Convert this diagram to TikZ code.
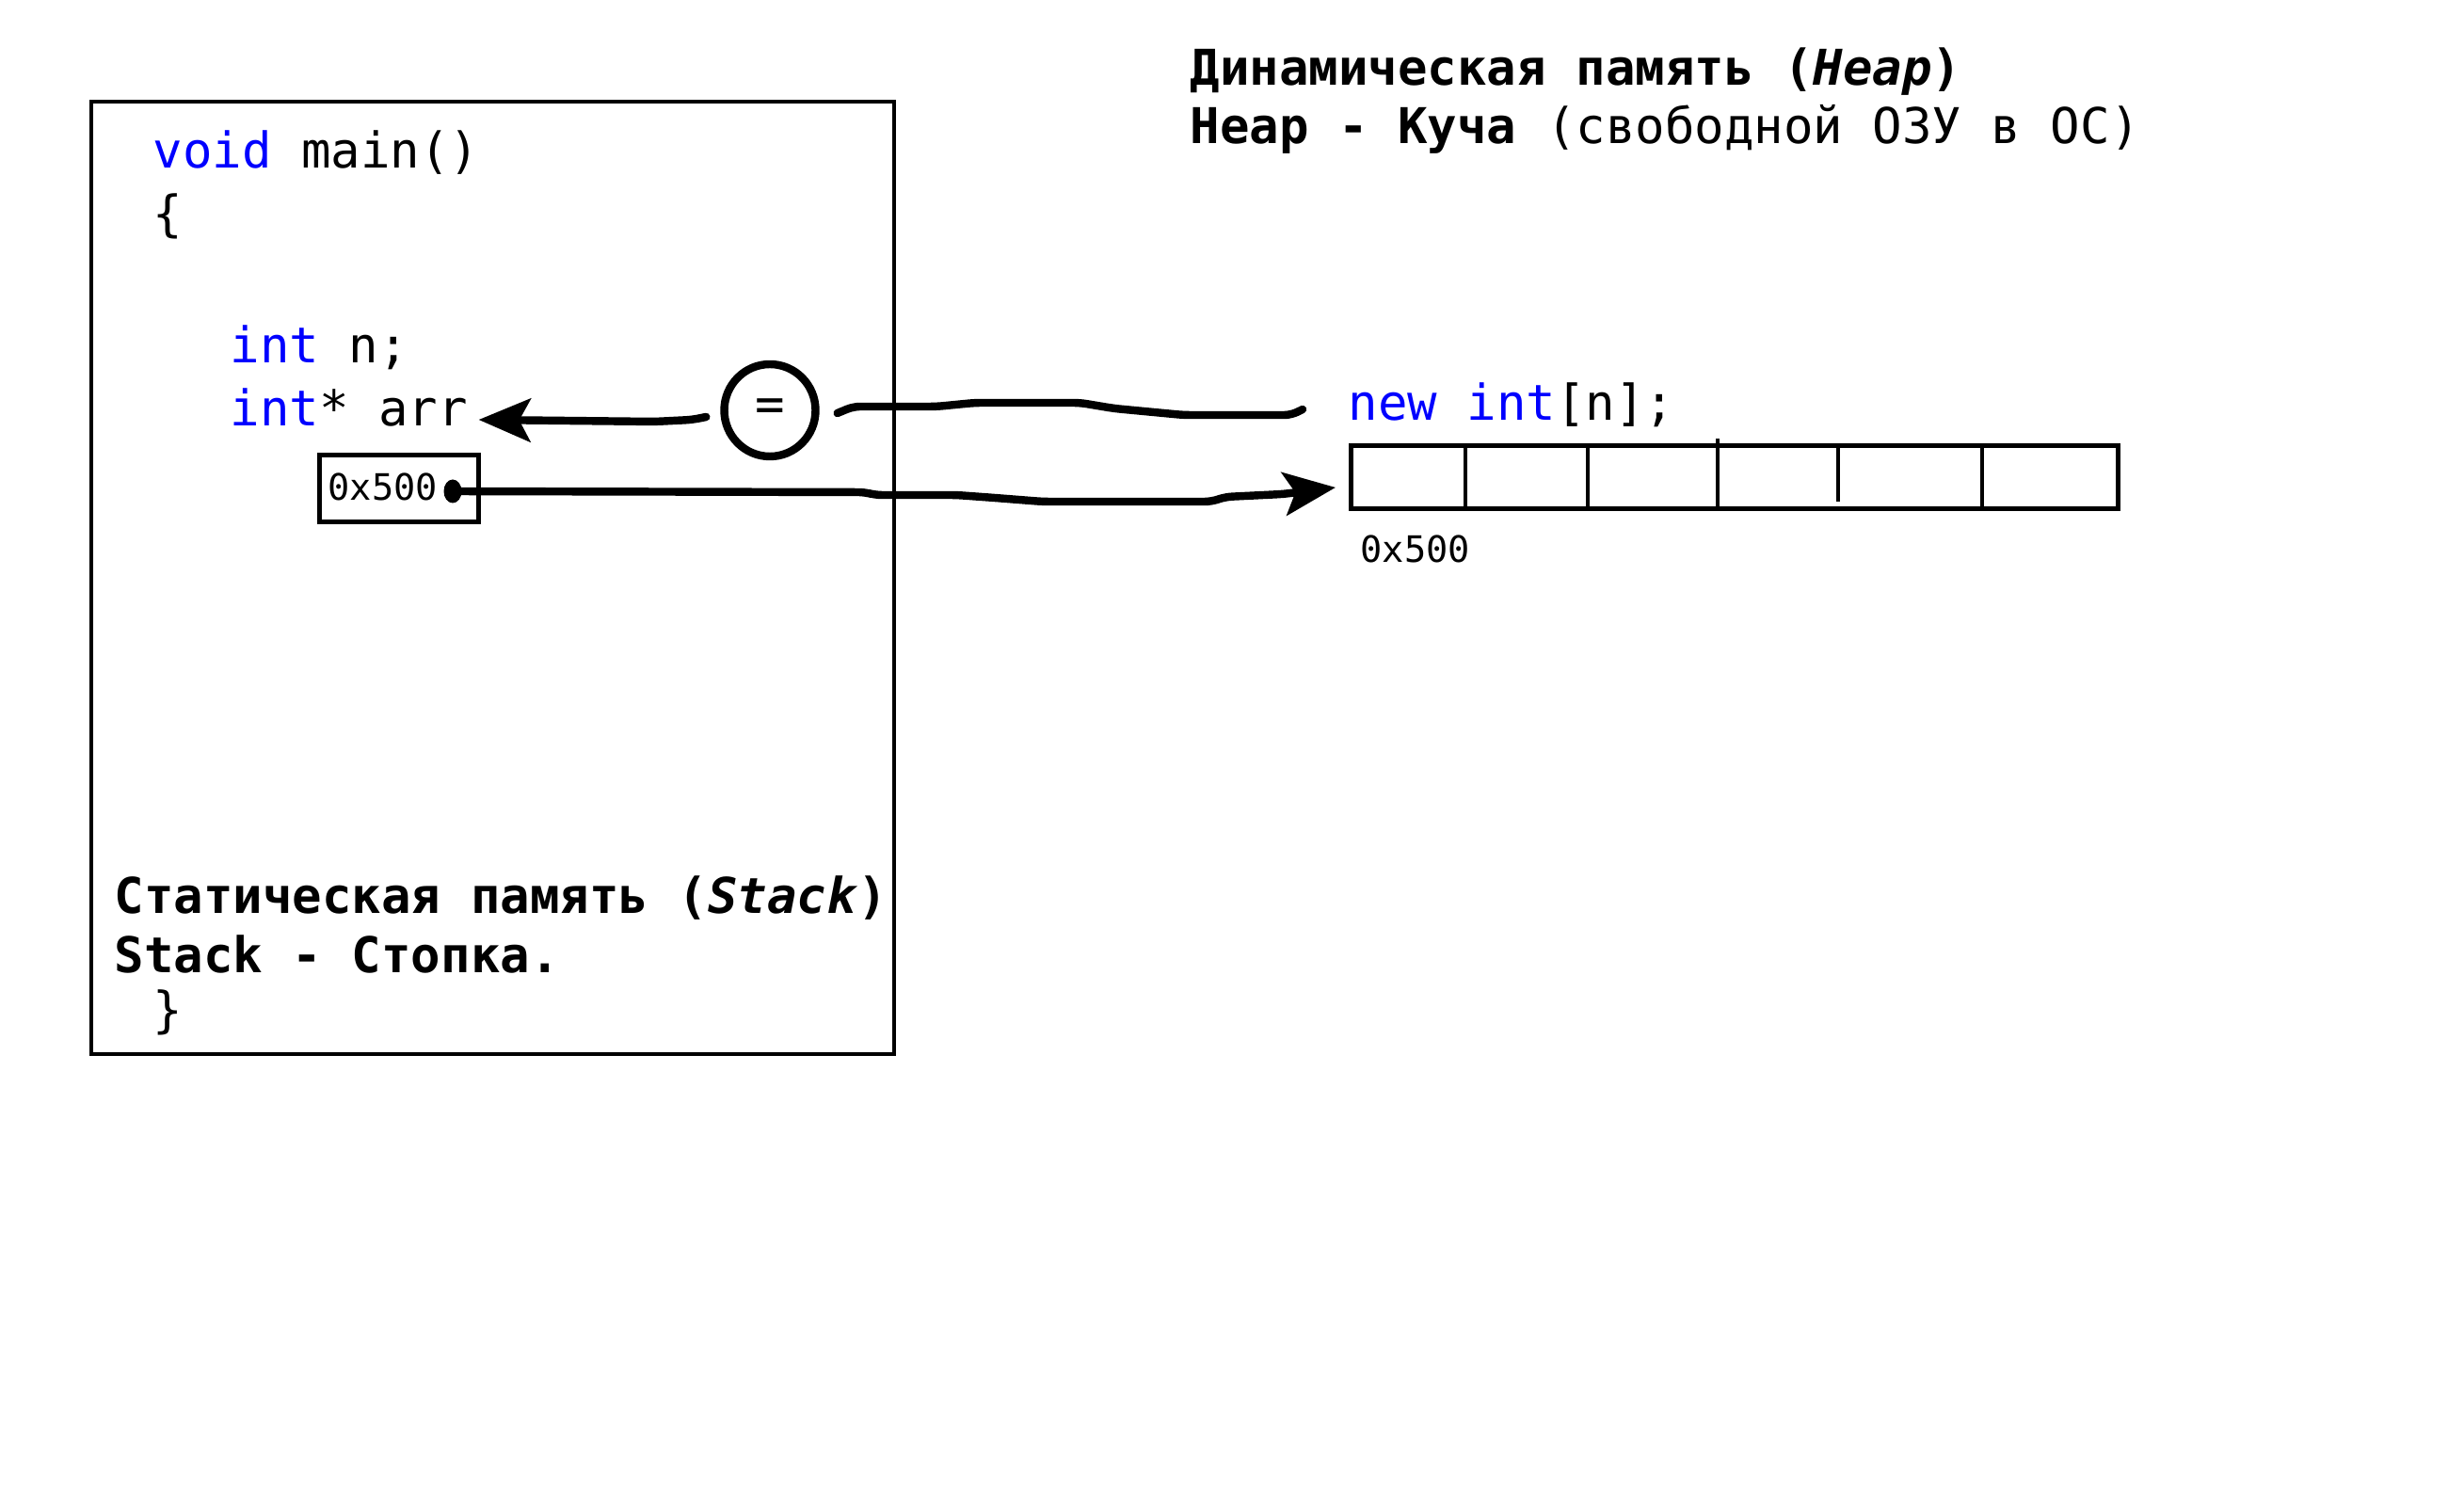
\documentclass[tikz,border=0pt]{standalone}
\usepackage{fontspec}
\setmainfont{DejaVu Sans Mono}[BoldFont={DejaVu Sans Mono Bold},ItalicFont={DejaVu Sans Mono Oblique},BoldItalicFont={DejaVu Sans Mono Bold Oblique}]
\usetikzlibrary{arrows.meta,shapes.geometric}

\begin{document}
\begin{tikzpicture}[
    txt/.style={inner sep=0pt, anchor=base west, font=\fontsize{14.9pt}{18pt}\selectfont},
    small/.style={inner sep=0pt, anchor=base west, font=\fontsize{11pt}{13pt}\selectfont},
    box/.style={draw, line width=1.4pt, inner sep=0pt},
    hand/.style={line width=2.4pt, line cap=round, line join=round, rounded corners=2pt},
    tip/.style={-{Stealth[length=5.5mm,width=4.6mm,inset=1.2mm]}}]
  \useasboundingbox (0,0) rectangle (26.18,-15.80);
  \draw[line width=1.4pt] (0.97,-1.08) rectangle (9.50,-11.20);
  \draw
    (1.62,-1.79) node[txt] (main) {\textcolor{blue}{void} main()}
    (1.62,-2.46) node[txt] (open) {\{}
    (2.44,-3.86) node[txt] (n) {\textcolor{blue}{int} n;}
    (2.44,-4.53) node[txt] (arr) {\textcolor{blue}{int}* arr}
    (1.21,-9.71) node[txt] (st1) {\textbf{Статическая память (\textit{Stack})}}
    (1.21,-10.33) node[txt] (st2) {\textbf{Stack - Стопка.}}
    (1.62,-10.91) node[txt] (close) {\}}
    (12.64,-0.91) node[txt] (hp1) {\textbf{Динамическая память (\textit{Heap})}}
    (12.64,-1.53) node[txt] (hp2) {\textbf{Heap - Куча} (свободной ОЗУ в ОС)}
    (14.32,-4.47) node[txt] (new) {\textcolor{blue}{new int}[n];}
    (14.45,-5.98) node[small] (addr) {0x500};
  \node[box, minimum width=1.69cm, minimum height=0.71cm, anchor=north west] (ptr) at (3.37,-4.81) {};
  \node[small] (val) at (3.48,-5.32) {0x500};
  \node[fill, ellipse, minimum width=0.19cm, minimum height=0.25cm, inner sep=0pt] (dot) at (4.81,-5.22) {};
  \node[draw, ellipse, line width=2.4pt, minimum width=0.97cm, minimum height=0.98cm, inner sep=0pt,
    font=\fontsize{14.9pt}{18pt}\selectfont] (eq) at (8.18,-4.36) {=};
  \node[box, minimum width=8.15cm, minimum height=0.67cm, anchor=north west] (heap) at (14.33,-4.71) {};
  \foreach \x/\a/\b in {15.57/4.71/5.42, 16.87/4.71/5.38, 18.25/4.66/5.38, 19.53/4.71/5.33, 21.06/4.71/5.38}
    \draw[line width=1.4pt] (\x,-\a) -- (\x,-\b);
  \begin{scope}[hand]
    \draw[tip] ([shift={(-0.15,-0.07)}]eq.west) -- ++(-0.15,-0.03) -- ++(-0.40,-0.02)
      -- ([shift={(0.11,0.07)}]arr.base east);
    \draw ([shift={(0.19,-0.03)}]eq.east) -- ++(0.17,0.07) -- ++(0.88,0) -- ++(0.41,0.04)
      -- ++(1.12,0) -- ++(0.36,-0.06) -- ++(0.74,-0.07) -- ++(1.14,0)
      -- ([shift={(-0.48,0.12)}]new.base west);
    \draw[tip] (dot.center) -- ++(4.38,-0.01) -- ++(0.11,-0.03) -- ++(0.86,0) -- ++(0.41,-0.03)
      -- ++(0.51,-0.04) -- ++(1.79,0) -- ++(0.15,0.05) -- ++(0.61,0.03)
      -- ([shift={(-0.14,-0.11)}]heap.west);
  \end{scope}
\end{tikzpicture}
\end{document}
